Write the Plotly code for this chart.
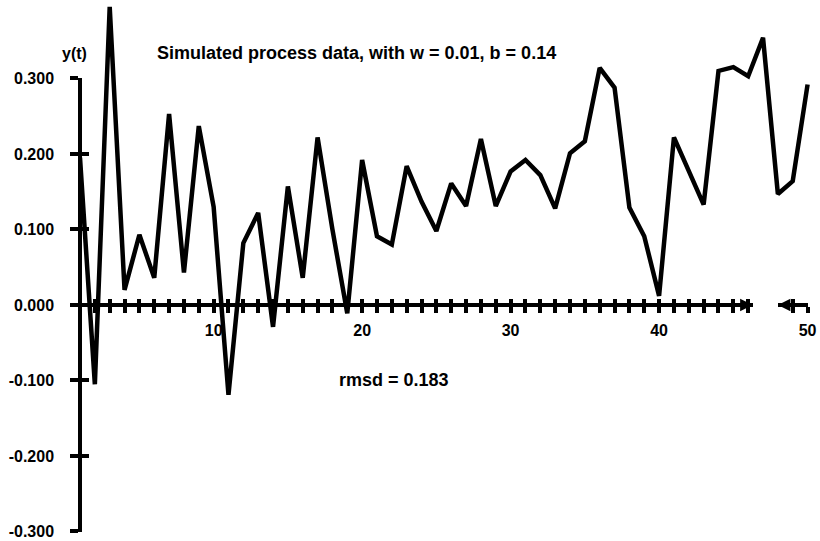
import plotly.graph_objects as go

# Simulated process series y(t), t = 1..50
t_values = list(range(1, 51))
y_values = [
    0.195, -0.105, 0.395, 0.020, 0.093, 0.036, 0.253, 0.043, 0.237, 0.130,
    -0.119, 0.082, 0.122, -0.029, 0.157, 0.036, 0.222, 0.100, -0.011, 0.192,
    0.091, 0.080, 0.184, 0.137, 0.098, 0.161, 0.131, 0.220, 0.131, 0.177,
    0.192, 0.172, 0.128, 0.201, 0.217, 0.314, 0.288, 0.129, 0.091, 0.012,
    0.222, 0.178, 0.133, 0.310, 0.315, 0.303, 0.354, 0.147, 0.164, 0.292,
]

# Axis ticks and labels
y_ticks = [-0.3, -0.2, -0.1, 0.0, 0.1, 0.2, 0.3]
y_tick_labels = ["-0.300", "-0.200", "-0.100", "0.000", "0.100", "0.200", "0.300"]
x_label_ticks = [10, 20, 30, 40, 50]
axis_break = [46.3, 48.0]   # gap in the time axis

title_text = "Simulated process data, with w = 0.01, b = 0.14"
rmsd_text = "rmsd = 0.183"
y_title = "y(t)"

X_RANGE = [1, 50.5]
Y_RANGE = [-0.31, 0.40]
FONT = "Liberation Sans, Arial, sans-serif"
EPS = 0.0008


def fx(v):
    return (v - X_RANGE[0]) / (X_RANGE[1] - X_RANGE[0])


def fy(v):
    return (v - Y_RANGE[0]) / (Y_RANGE[1] - Y_RANGE[0])


fig = go.Figure()
fig.add_trace(go.Scatter(
    x=t_values, y=y_values, mode="lines",
    line=dict(color="black", width=4.5),
    xaxis="x", yaxis="y", showlegend=False, hoverinfo="skip",
))

# empty traces that bind the tick-only axes to subplots
for xa, ya in [("x2", "y"), ("x3", "y"), ("x4", "y"), ("x5", "y"), ("x", "y2"), ("x", "y3")]:
    fig.add_trace(go.Scatter(x=[None], y=[None], xaxis=xa, yaxis=ya,
                             showlegend=False, hoverinfo="skip"))

left_ticks = [v for v in t_values if v < axis_break[0]]
right_ticks = [v for v in t_values if v > axis_break[1]]


def tick_text(vals):
    return [str(v) if v in x_label_ticks else "" for v in vals]


tick_font = dict(family=FONT, size=16, color="black", weight="bold")
pos0 = fy(0.0)

common_x = dict(anchor="free", position=pos0, showgrid=False, zeroline=False,
                automargin=False, ticklabeloverflow="allow",
                tickcolor="black", tickwidth=3.5, ticklen=6)

y_lo, y_hi = y_ticks[0] - EPS, y_ticks[-1] + EPS
common_y = dict(domain=[fy(y_lo), fy(y_hi)], range=[y_lo, y_hi],
                anchor="free", position=0, side="left", showgrid=False, zeroline=False,
                automargin=False, ticklabeloverflow="allow",
                ticklen=8, tickwidth=3.5, tickcolor="black", tickvals=y_ticks)

layout_axes = dict(
    xaxis=dict(domain=[0, 1], range=X_RANGE, visible=False, automargin=False),
    yaxis=dict(domain=[0, 1], range=Y_RANGE, visible=False, automargin=False),
    xaxis2=dict(domain=[0, fx(axis_break[0])], range=[X_RANGE[0], axis_break[0]],
                showline=True, linecolor="black", linewidth=3.5, ticks="outside",
                tickvals=left_ticks, ticktext=tick_text(left_ticks), tickfont=tick_font,
                ticklabelstandoff=4, **common_x),
    xaxis3=dict(domain=[0, fx(axis_break[0])], range=[X_RANGE[0], axis_break[0]],
                showline=False, ticks="inside", tickvals=left_ticks,
                showticklabels=False, **common_x),
    xaxis4=dict(domain=[fx(axis_break[1]), fx(50 + EPS)], range=[axis_break[1], 50 + EPS],
                showline=True, linecolor="black", linewidth=3.5, ticks="outside",
                tickvals=right_ticks, ticktext=tick_text(right_ticks), tickfont=tick_font,
                ticklabelstandoff=4, **common_x),
    xaxis5=dict(domain=[fx(axis_break[1]), fx(50 + EPS)], range=[axis_break[1], 50 + EPS],
                showline=False, ticks="inside", tickvals=right_ticks,
                showticklabels=False, **common_x),
    yaxis2=dict(showline=True, linecolor="black", linewidth=3.5,
                ticks="outside", ticktext=y_tick_labels,
                tickfont=dict(family=FONT, size=16, color="black", weight="bold"),
                ticklabelstandoff=13, **common_y),
    yaxis3=dict(showline=False, ticks="inside", showticklabels=False, **common_y),
)

annotations = [
    dict(text=title_text, x=fx(6.05), y=fy(0.334), xref="paper", yref="paper",
         xanchor="left", yanchor="middle", showarrow=False,
         font=dict(family=FONT, size=18, color="black", weight="bold")),
    dict(text=y_title, x=fx(0.63), y=fy(0.333), xref="paper", yref="paper",
         xanchor="center", yanchor="middle", showarrow=False,
         font=dict(family=FONT, size=16, color="black", weight="bold")),
    dict(text=rmsd_text, x=fx(18.31), y=fy(-0.099), xref="paper", yref="paper",
         xanchor="left", yanchor="middle", showarrow=False,
         font=dict(family=FONT, size=18, color="black", weight="bold")),
    # arrowheads marking the break in the time axis
    dict(text="", x=axis_break[0], y=0, ax=axis_break[0] - 0.6, ay=0,
         xref="x", yref="y", axref="x", ayref="y", showarrow=True,
         arrowhead=2, arrowsize=1, arrowwidth=2.5, arrowcolor="black"),
    dict(text="", x=axis_break[1], y=0, ax=axis_break[1] + 0.6, ay=0,
         xref="x", yref="y", axref="x", ayref="y", showarrow=True,
         arrowhead=2, arrowsize=1, arrowwidth=2.5, arrowcolor="black"),
]

fig.update_layout(
    width=820, height=541,
    margin=dict(l=80, r=5, t=3, b=2),
    paper_bgcolor="white", plot_bgcolor="rgba(0,0,0,0)",
    annotations=annotations,
    **layout_axes,
)

fig.write_html("out.html")
